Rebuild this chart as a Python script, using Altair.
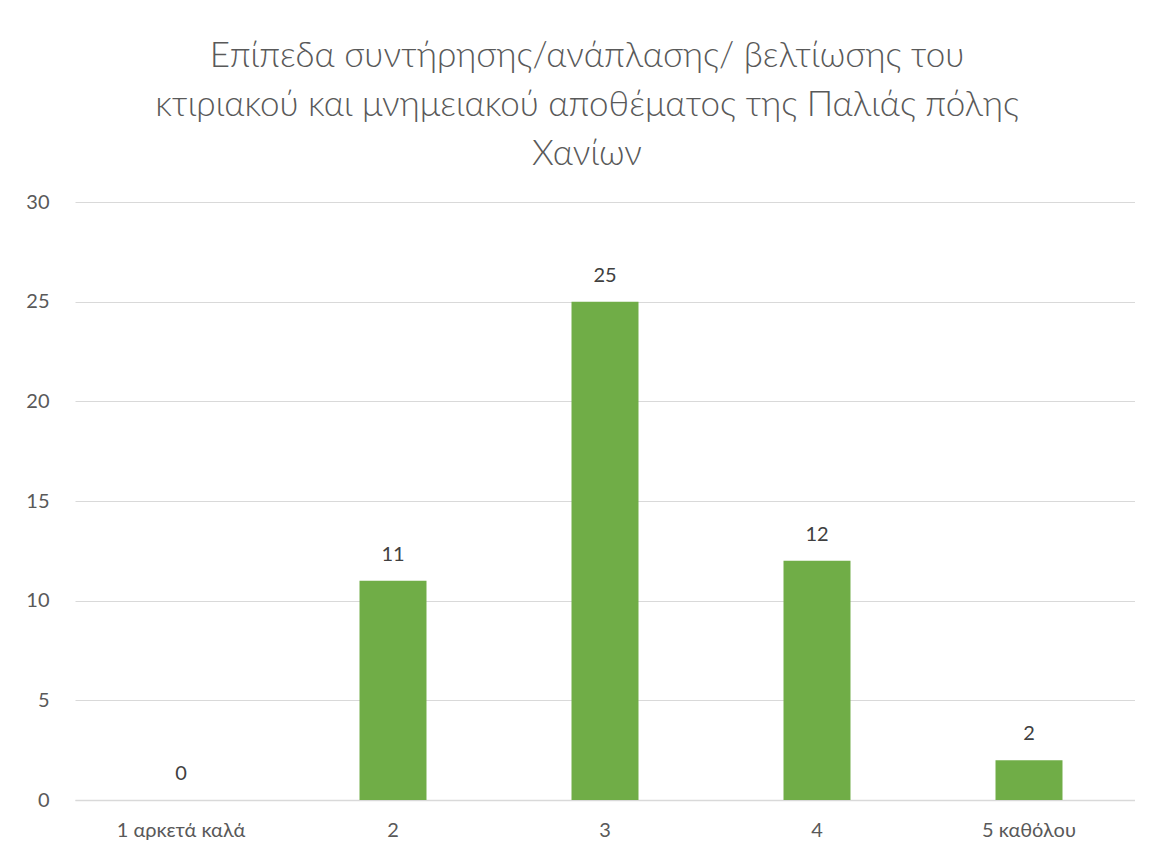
import altair as alt
import pandas as pd

categories = ["1 αρκετά καλά", "2", "3", "4", "5 καθόλου"]
values = [0, 11, 25, 12, 2]
y_ticks = [0, 5, 10, 15, 20, 25, 30]
title_lines = [
    "Επίπεδα συντήρησης/ανάπλασης/ βελτίωσης του",
    "κτιριακού και μνημειακού αποθέματος της Παλιάς πόλης",
    "Χανίων",
]

df = pd.DataFrame({"cat": categories, "val": values})

FONT = "Lato"

x = alt.X("cat:N", sort=categories, title=None,
          scale=alt.Scale(paddingInner=0.684, paddingOuter=0.342),
          axis=alt.Axis(labelAngle=0, labelFontSize=20, labelColor="#595959",
                        labelFont=FONT, labelPadding=20, ticks=False,
                        domainColor="#d9d9d9", domainWidth=1.5, grid=False))
y = alt.Y("val:Q", title=None,
          scale=alt.Scale(domain=[0, 30], nice=False),
          axis=alt.Axis(values=y_ticks, labelFontSize=20, labelColor="#595959",
                        labelFont=FONT, labelPadding=26, ticks=False, domain=False,
                        gridColor="#d9d9d9", gridWidth=1.2))

bars = alt.Chart(df).mark_bar(color="#70AD47").encode(x=x, y=y)
labels = alt.Chart(df).mark_text(dy=-16, fontSize=20, color="#404040", font=FONT,
                                 baseline="bottom").encode(
    x=alt.X("cat:N", sort=categories),
    y=alt.Y("val:Q"),
    text="val:Q")

chart = (bars + labels).properties(
    width=1060, height=598,
    background="white",
    title=alt.TitleParams(title_lines, fontSize=35, font=FONT, fontWeight=300,
                          color="#595959", anchor="middle", dx=-18,
                          offset=20, lineHeight=49),
    padding={"left": 67, "top": 194, "right": 0, "bottom": 40},
    autosize=alt.AutoSizeParams(type="none"),
).configure_view(stroke=None)

chart.save("out.html", embed_options={"renderer": "svg", "actions": False})
